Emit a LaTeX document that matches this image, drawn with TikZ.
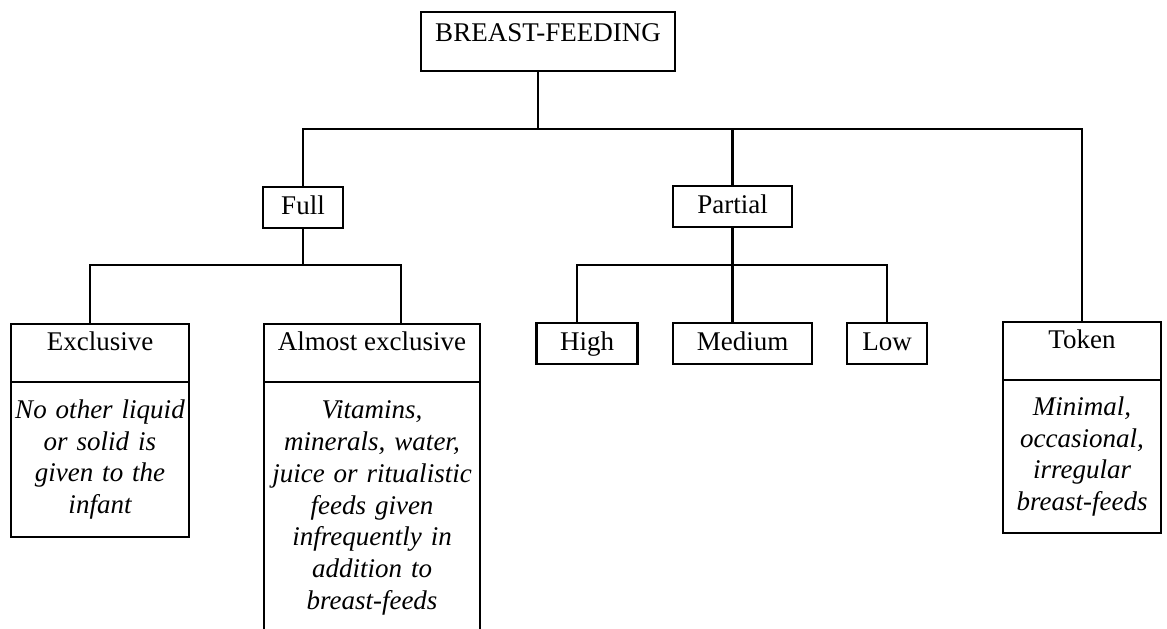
\documentclass[tikz,border=0pt]{standalone}
\usepackage{fontspec}
\setmainfont{Liberation Serif}
\usetikzlibrary{positioning}

\begin{document}
\begin{tikzpicture}[x=1pt,y=-1pt,line join=miter,
  every node/.style={font=\fontsize{27}{31.8}\selectfont},
  box/.style={draw,line width=2.6pt,anchor=north,outer sep=0pt,inner xsep=0pt,inner ysep=0pt,
    text height=19pt,text depth=6pt,minimum height=41pt},
  headbox/.style={draw,line width=2.6pt,anchor=north,outer sep=0pt,inner xsep=0pt,inner ysep=7pt,
    text height=19pt,text depth=25pt},
  bodybox/.style={draw,line width=2.6pt,anchor=north,outer sep=0pt,inner xsep=4pt,inner ysep=0pt,
    align=center,font=\fontsize{27}{31.8}\selectfont\itshape},
  link/.style={line width=2.6pt}]
 \useasboundingbox (0,0) rectangle (1167,629);
 \clip (0,0) rectangle (1167,629);
 % Root.
 \node[headbox,minimum width=254pt,text height=22pt,text depth=23pt] (top) at (548,12) {BREAST-FEEDING};
 % Second level.
 \node[box,minimum width=80pt] (full) at (303,187) {Full};
 \node[box,minimum width=119pt] (partial) at (732.5,186) {Partial};
 % Full: two boxes with a description.
 \node[headbox,minimum width=178pt] (exclhead) at (100,324) {Exclusive};
 \node[bodybox,text width=170pt,minimum height=155pt] (exclbody) at (exclhead.south)
  {No other liquid\\or solid is\\given to the\\infant};
 \node[headbox,minimum width=216pt] (almosthead) at (372,324) {Almost exclusive};
 \node[bodybox,text width=208pt,minimum height=252pt] (almostbody) at (almosthead.south)
  {Vitamins,\\minerals, water,\\juice or ritualistic\\feeds given\\infrequently in\\addition to\\breast-feeds};
 % Partial: three grades.
 \node[box,minimum width=101pt] (high) at (587,323) {High};
 \node[box,minimum width=139pt] (medium) at (742.5,323) {Medium};
 \node[box,minimum width=80pt] (low) at (887,323) {Low};
 % Token.
 \node[headbox,minimum width=158pt] (tokenhead) at (1082,322) {Token};
 \node[bodybox,text width=150pt,minimum height=153pt] (tokenbody) at (tokenhead.south)
  {Minimal,\\occasional,\\irregular\\breast-feeds};
 % Connectors.
 \coordinate (topstem) at (538,129);
 \coordinate (barL) at (303,129);
 \coordinate (barR) at (1082,129);
 \draw[link] (topstem |- top.south) -- (topstem);
 \draw[link] (full.north) -- (barL) -- (barR) -- (tokenhead.north -| barR);
 \draw[link] (partial.north |- barL) -- (partial.north);
 \coordinate (fullL) at (90,265);
 \coordinate (fullR) at (401,265);
 \draw[link] (full.south) -- (full.south |- fullL);
 \draw[link] (exclhead.north -| fullL) -- (fullL) -- (fullR) -- (almosthead.north -| fullR);
 \coordinate (partL) at (577,265);
 \coordinate (partR) at (887,265);
 \draw[link] (partial.south) -- (partial.south |- medium.north);
 \draw[link] (high.north -| partL) -- (partL) -- (partR) -- (low.north);
\end{tikzpicture}
\end{document}
